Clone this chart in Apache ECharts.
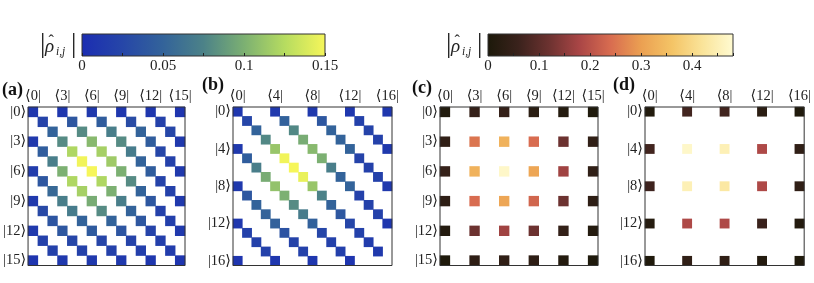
<!DOCTYPE html>
<html><head><meta charset="utf-8">
<script src="https://cdn.jsdelivr.net/npm/echarts@6/dist/echarts.min.js"></script>
<style>html,body{margin:0;padding:0;background:#fff}#c{width:814px;height:283px}</style>
</head><body><div id="c"></div><script>
const _ = null;
// Panel (a): 16x16, |rho_ij| (row i, column j)
const rhoA = [
 [.010,_,_,.010,_,_,.012,_,_,.010,_,_,.010,_,_,.008],
 [_,.022,_,_,.040,_,_,.045,_,_,.030,_,_,.020,_,_],
 [_,_,.050,_,_,.080,_,_,.072,_,_,.050,_,_,.025,_],
 [.012,_,_,.080,_,_,.105,_,_,.080,_,_,.045,_,_,.012],
 [_,.045,_,_,.122,_,_,.118,_,_,.070,_,_,.025,_,_],
 [_,_,.072,_,_,.148,_,_,.115,_,_,.050,_,_,.020,_],
 [.015,_,_,.100,_,_,.150,_,_,.100,_,_,.045,_,_,.012],
 [_,.040,_,_,.122,_,_,.122,_,_,.080,_,_,.022,_,_],
 [_,_,.055,_,_,.118,_,_,.100,_,_,.050,_,_,.020,_],
 [.012,_,_,.072,_,_,.098,_,_,.072,_,_,.040,_,_,.012],
 [_,.028,_,_,.070,_,_,.080,_,_,.050,_,_,.020,_,_],
 [_,_,.038,_,_,.050,_,_,.050,_,_,.040,_,_,.018,_],
 [.012,_,_,.040,_,_,.042,_,_,.038,_,_,.022,_,_,.012],
 [_,.020,_,_,.025,_,_,.024,_,_,.022,_,_,.018,_,_],
 [_,_,.020,_,_,.020,_,_,.020,_,_,.018,_,_,.015,_],
 [.008,_,_,.012,_,_,.012,_,_,.012,_,_,.010,_,_,.008]
];
// Panel (b): 17x17
const rhoB = [
 [.010,_,_,_,.012,_,_,_,.012,_,_,_,.010,_,_,_,.010],
 [_,.025,_,_,_,.048,_,_,_,.040,_,_,_,.020,_,_,_],
 [_,_,.050,_,_,_,.078,_,_,_,.050,_,_,_,.022,_,_],
 [_,_,_,.078,_,_,_,.098,_,_,_,.050,_,_,_,.020,_],
 [.012,_,_,_,.112,_,_,_,.105,_,_,_,.050,_,_,_,.012],
 [_,.045,_,_,_,.148,_,_,_,.100,_,_,_,.022,_,_,_],
 [_,_,.072,_,_,_,.150,_,_,_,.072,_,_,_,.020,_,_],
 [_,_,_,.098,_,_,_,.145,_,_,_,.050,_,_,_,.020,_],
 [.012,_,_,_,.110,_,_,_,.112,_,_,_,.050,_,_,_,.012],
 [_,.040,_,_,_,.100,_,_,_,.075,_,_,_,.020,_,_,_],
 [_,_,.050,_,_,_,.080,_,_,_,.050,_,_,_,.020,_,_],
 [_,_,_,.050,_,_,_,.070,_,_,_,.040,_,_,_,.020,_],
 [.010,_,_,_,.048,_,_,_,.048,_,_,_,.025,_,_,_,.010],
 [_,.020,_,_,_,.035,_,_,_,.025,_,_,_,.020,_,_,_],
 [_,_,.020,_,_,_,.022,_,_,_,.020,_,_,_,.015,_,_],
 [_,_,_,.020,_,_,_,.020,_,_,_,.018,_,_,_,.012,_],
 [.008,_,_,_,.010,_,_,_,.010,_,_,_,.008,_,_,_,_]
];
// Panel (c): 16x16, nonzero only on indices below
const idxC = [0,3,6,9,12,15];
const rhoC = [
 [.012,.050,.050,.030,.015,.006],
 [.040,.250,.330,.240,.120,.040],
 [.050,.330,.470,.310,.170,.040],
 [.035,.240,.310,.230,.120,.035],
 [.015,.120,.170,.120,.045,.015],
 [.006,.035,.040,.035,.015,.006]
];
// Panel (d): 17x17
const idxD = [0,4,8,12,16];
const rhoD = [
 [.012,.070,.070,.030,.008],
 [.070,.470,.450,.185,.040],
 [.065,.450,.430,.185,.040],
 [.020,.185,.185,.060,.015],
 [.008,.040,.040,.015,.008]
];
const cbTicksBlue = [0, 0.05, 0.1, 0.15];
const cbTicksHeat = [0, 0.1, 0.2, 0.3, 0.4];
const maxBlue = 0.15, maxHeat = 0.48;

const cmapBlue = ['#1b2db2','#2646a8','#33639a','#4c8288','#7cb072','#b6dc60','#f6f65a'];
const cmapHeat = ['#1c190a','#3a221c','#6c3230','#aa4646','#d86c50','#eba052','#f4c466','#fae49a','#fffbd2'];

const FONT = "'Liberation Serif','DejaVu Serif',serif";
const cats = n => Array.from({length:n}, (_, i) => String(i));
function dense(mat){ const d=[]; mat.forEach((r,i)=>r.forEach((v,j)=>{ if(v!==null) d.push([j,i,v]); })); return d; }
function sparse(idx, mat){ const d=[]; mat.forEach((r,a)=>r.forEach((v,b)=>{ if(v!==null) d.push([idx[b],idx[a],v]); })); return d; }

const boxes = [
 {left:27, width:158},
 {left:233, width:159},
 {left:440, width:158},
 {left:645, width:160}
];
const grids = boxes.map(b => ({left:b.left, top:107, width:b.width, height:158.5, show:true, borderColor:'#333', borderWidth:1, z:10}));
grids.push({left:82, top:34, width:243, height:22});
grids.push({left:488, top:34, width:245, height:22});

const sizes = [16,17,16,17], steps = [3,4,3,4];
const xAxes = [], yAxes = [];
sizes.forEach((n,gi)=>{
  xAxes.push({type:'category', gridIndex:gi, position:'top', data:cats(n),
    axisLine:{show:false}, axisTick:{show:false}, splitLine:{show:false},
    axisLabel:{interval:steps[gi]-1, formatter:v=>'⟨'+v+'|', fontFamily:FONT, fontSize:14.5, color:'#222', margin:3}});
  yAxes.push({type:'category', gridIndex:gi, inverse:true, data:cats(n),
    axisLine:{show:false}, axisTick:{show:false}, splitLine:{show:false},
    axisLabel:{interval:steps[gi]-1, formatter:v=>'|'+v+'⟩', fontFamily:FONT, fontSize:14.5, color:'#222', margin:2}});
});
function cbAxis(gi, max, fmt){
  return {type:'value', gridIndex:gi, min:0, max:max, interval: gi===4?0.05:0.1, position:'bottom', z:5,
    axisLine:{show:false}, splitLine:{show:false},
    axisTick:{show:true, inside:true, length:3, lineStyle:{color:'#222'}},
    minorTick:{show:true, splitNumber:2, length:3, lineStyle:{color:'#222'}},
    axisLabel:{fontFamily:FONT, fontSize:15, color:'#222', margin:3, formatter:fmt}};
}
xAxes.push(cbAxis(4, maxBlue, v => cbTicksBlue.some(t=>Math.abs(t-v)<1e-9) ? String(+v.toFixed(2)) : ''));
xAxes.push(cbAxis(5, maxHeat, v => cbTicksHeat.some(t=>Math.abs(t-v)<1e-9) ? String(+v.toFixed(1)) : ''));
yAxes.push({type:'value', gridIndex:4, min:0, max:1, show:false});
yAxes.push({type:'value', gridIndex:5, min:0, max:1, show:false});

function hm(gi, data){ return {type:'heatmap', xAxisIndex:gi, yAxisIndex:gi, data:data, emphasis:{disabled:true}, silent:true, progressive:0, z:2}; }
function cbSeries(gi, max, cmap){
  return {type:'custom', xAxisIndex:gi, yAxisIndex:gi, data:[[0,0]], silent:true, z:1,
    renderItem:(params, api)=>{
      const p0 = api.coord([0,0]), p1 = api.coord([max,1]);
      return {type:'rect', shape:{x:p0[0], y:p1[1], width:p1[0]-p0[0], height:p0[1]-p1[1]},
        style:{fill:new echarts.graphic.LinearGradient(0,0,1,0, cmap.map((c,i,a)=>({offset:i/(a.length-1), color:c}))), stroke:'#333', lineWidth:1}};
    }};
}
function titleText(x){
  const t = (s, dx, dy, size, italic) => ({type:'text', x:x+dx, y:dy, silent:true,
    style:{text:s, fontFamily:FONT, fontSize:size, fontStyle:italic?'italic':'normal', fill:'#222', align:'left', verticalAlign:'middle'}});
  return {type:'group', silent:true, children:[
    t('|', 0, 45, 27, false),
    t('ρ', 5, 47, 19, true),
    t('ˆ', 8.5, 42, 16, false),
    t('i,j', 16, 52, 11.5, true),
    t('|', 31, 45, 27, false)
  ]};
}
function panelLabel(t, x, y){
  return {type:'text', left:x, top:y, silent:true, style:{text:t, fontFamily:FONT, fontWeight:'bold', fontSize:18, fill:'#111'}};
}

const chart = echarts.init(document.getElementById('c'));
chart.setOption({
  animation:false,
  backgroundColor:'#fff',
  grid:grids, xAxis:xAxes, yAxis:yAxes,
  visualMap:[
    {type:'continuous', show:false, seriesIndex:[0,1], min:0, max:maxBlue, inRange:{color:cmapBlue}},
    {type:'continuous', show:false, seriesIndex:[2,3], min:0, max:maxHeat, inRange:{color:cmapHeat}}
  ],
  series:[
    hm(0, dense(rhoA)), hm(1, dense(rhoB)), hm(2, sparse(idxC, rhoC)), hm(3, sparse(idxD, rhoD)),
    cbSeries(4, maxBlue, cmapBlue), cbSeries(5, maxHeat, cmapHeat)
  ],
  graphic:[
    titleText(40), titleText(446),
    panelLabel('(a)', 2, 81), panelLabel('(b)', 202, 76), panelLabel('(c)', 412, 79), panelLabel('(d)', 613, 76)
  ]
});
</script></body></html>
